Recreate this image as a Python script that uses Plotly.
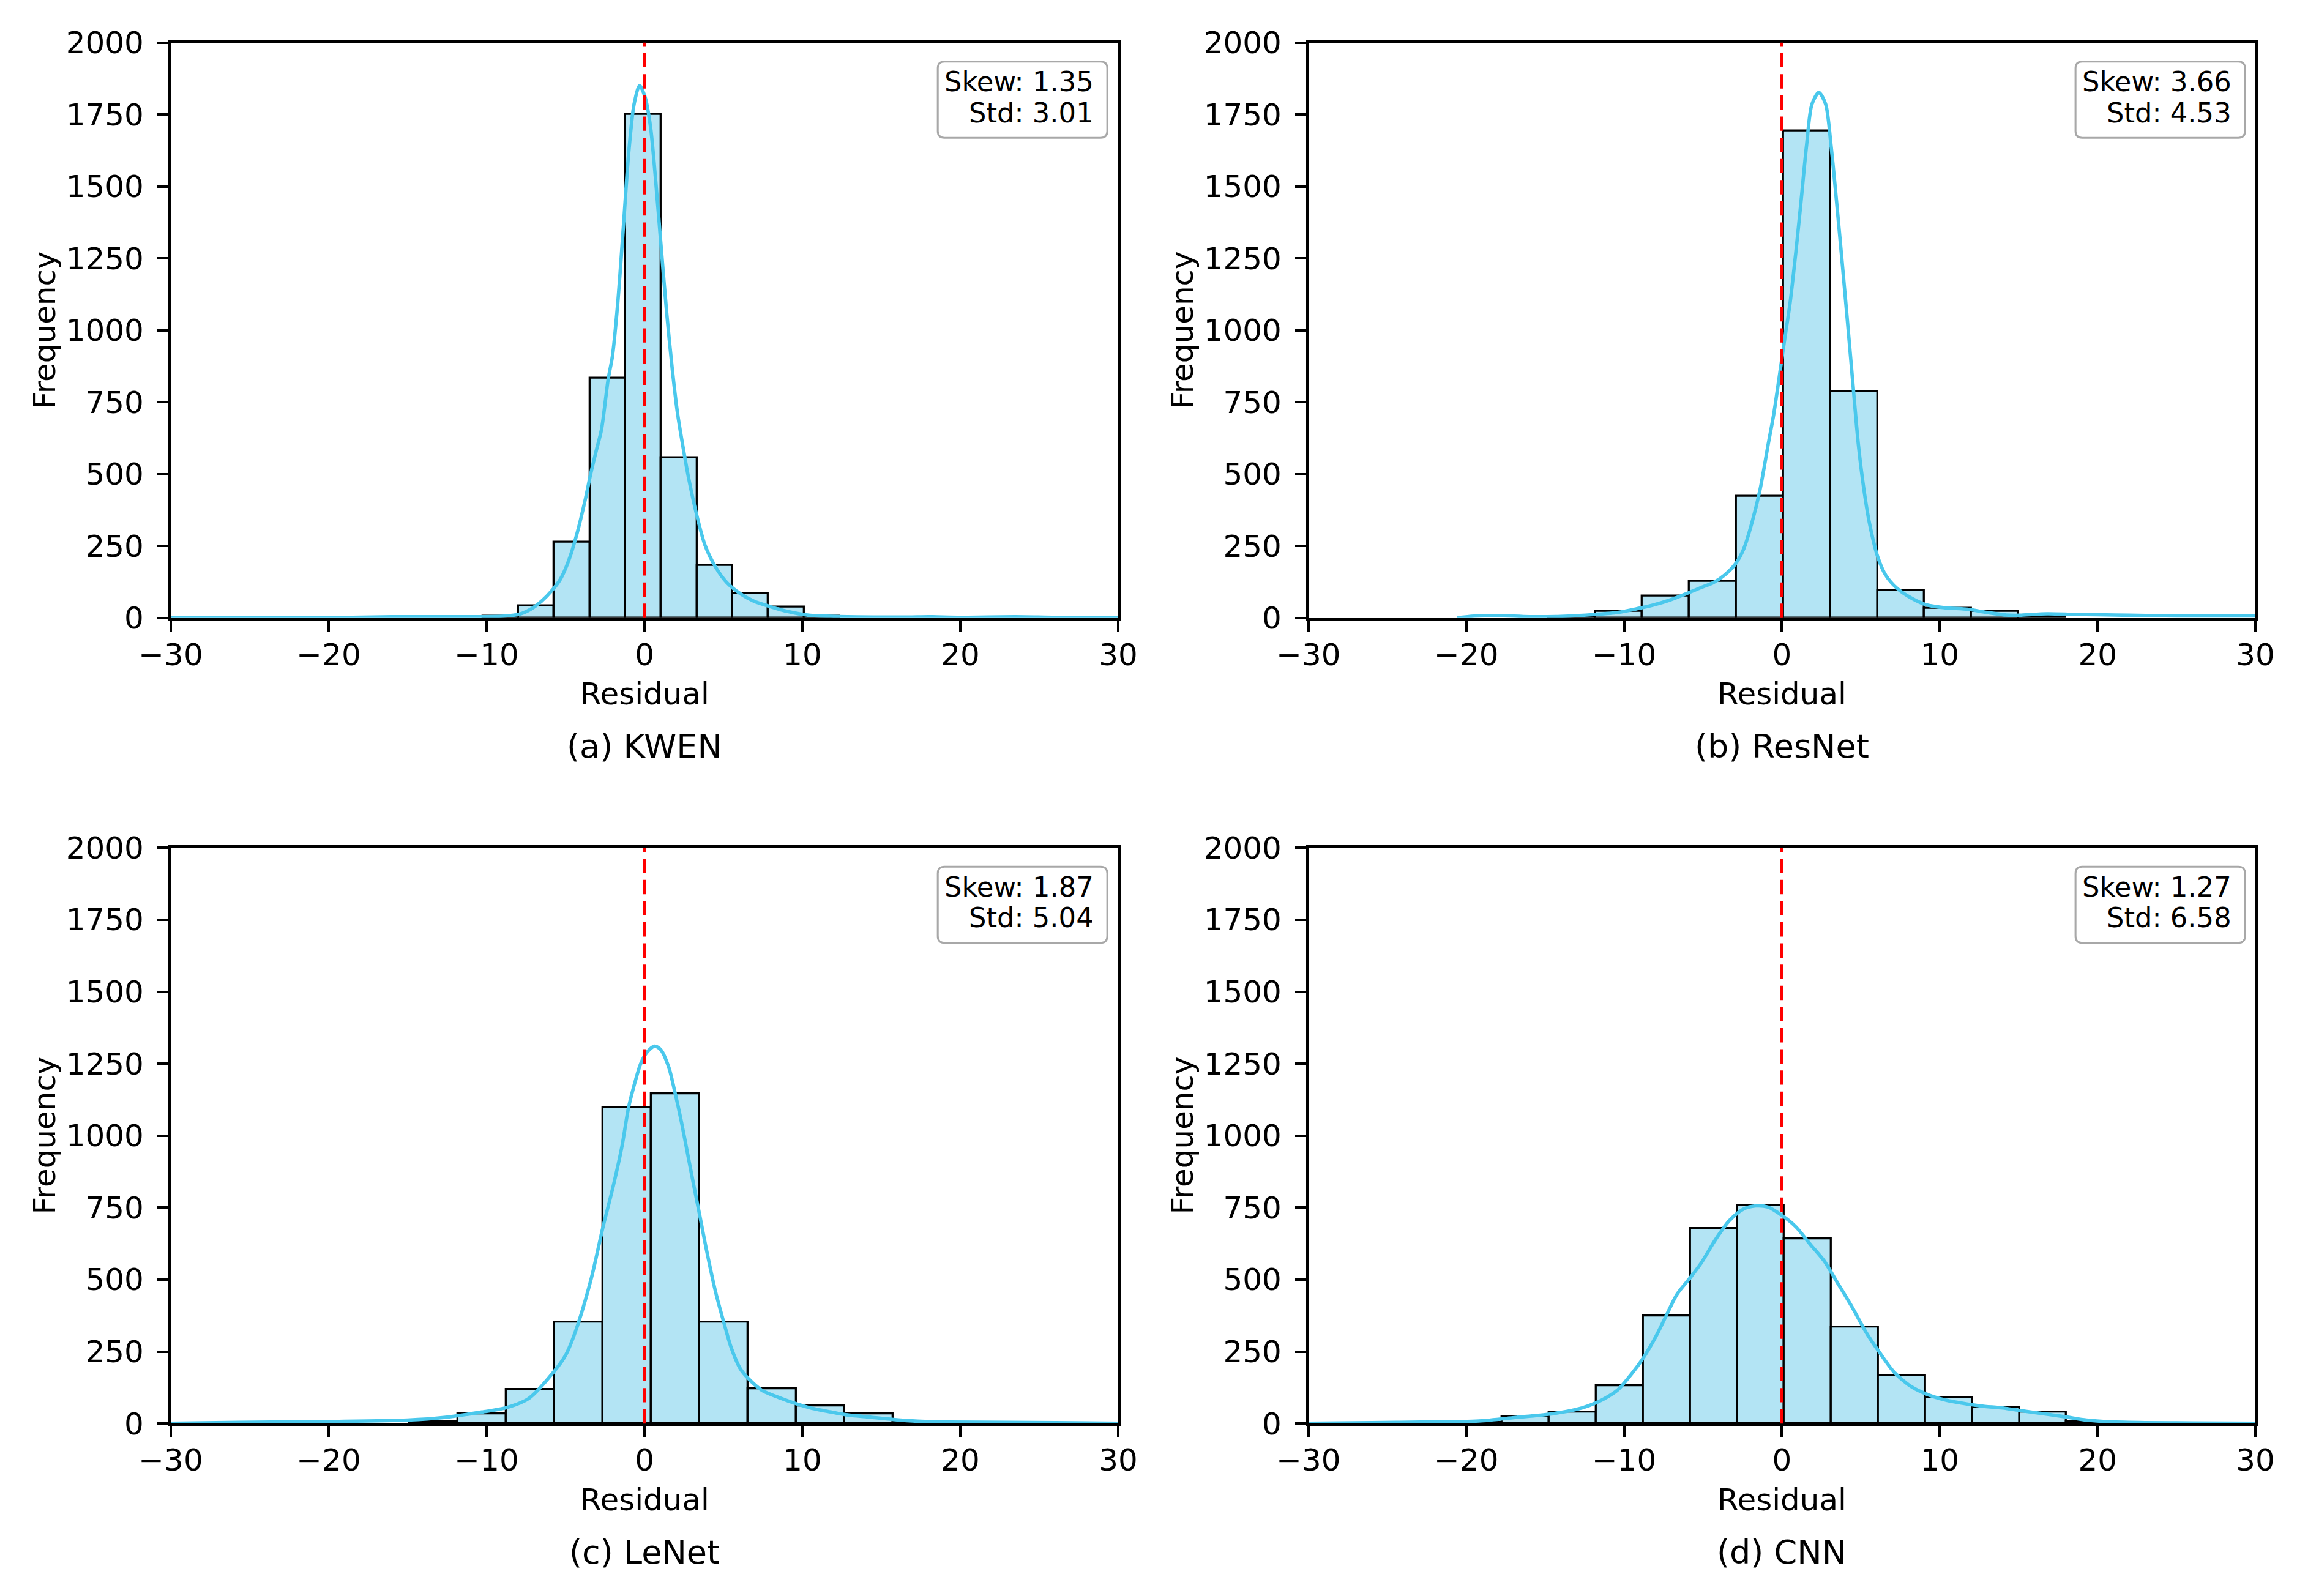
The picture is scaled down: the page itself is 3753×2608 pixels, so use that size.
import plotly.graph_objects as go

W, H = 3753, 2608
FONT = "DejaVu Sans"

# ---------------- data ----------------
titles = ["(a) KWEN", "(b) ResNet", "(c) LeNet", "(d) CNN"]
skews = ["1.35", "3.66", "1.87", "1.27"]
stds = ["3.01", "4.53", "5.04", "6.58"]

kwen_bin_left = [-10.24, -7.98, -5.72, -3.46, -1.20, 1.06, 3.32, 5.58, 7.84, 10.10]
kwen_bin_width = 2.26
kwen_counts = [5, 42, 263, 834, 1751, 558, 182, 84, 37, 7]
kwen_kde_x = [-30, -20, -16, -13, -10.3, -8.9, -7.9, -7.21, -6.52, -5.83, -5.31, -4.79, -4.28,
              -3.76, -3.41, -3.07, -2.72, -2.3, -2.03, -1.69, -1.34, -1.0, -0.66, -0.31, 0.03,
              0.38, 0.72, 1.07, 1.41, 1.76, 2.1, 2.45, 2.79, 3.31, 3.83, 4.52, 5.21, 6.07, 6.93,
              7.97, 9.0, 10.4, 12.1, 14.5, 16.7, 18.0, 20.0, 23.5, 26, 30]
kwen_kde_y = [1, 1, 4, 4, 4, 6, 13, 30, 58, 97, 136, 201, 292, 409, 500, 578, 656, 830, 910,
              1097, 1357, 1617, 1786, 1851, 1812, 1708, 1513, 1279, 1058, 864, 708, 591, 487,
              357, 253, 175, 123, 84, 58, 39, 23, 9, 5, 3, 3, 4, 2, 4, 2, 1]

resnet_bin_left = [-14.81, -11.83, -8.85, -5.87, -2.89, 0.09, 3.07, 6.05, 9.03, 12.01, 14.99]
resnet_bin_width = 2.98
resnet_counts = [4, 24, 76, 128, 424, 1694, 788, 95, 34, 24, 5]
resnet_kde_x = [-20.6, -19.5, -18, -16, -14, -11.8, -10.4, -9.17, -8.13, -7.1, -6.06, -5.19,
                -4.33, -3.63, -2.94, -2.42, -1.9, -1.38, -0.87, -0.52, -0.17, 0.17, 0.52, 0.87,
                1.21, 1.56, 1.9, 2.34, 2.77, 3.11, 3.46, 3.81, 4.15, 4.5, 4.84, 5.19, 5.54,
                6.06, 6.57, 7.27, 8.13, 9.17, 10.38, 11.76, 12.98, 14.19, 15.0, 16.8, 18.5,
                20, 22, 25, 28, 30]
resnet_kde_y = [0, 6, 8, 4, 5, 12, 19, 32, 45, 62, 84, 104, 123, 149, 188, 240, 331, 448, 604,
                708, 838, 968, 1097, 1266, 1448, 1643, 1786, 1827, 1786, 1643, 1448, 1240, 1032,
                812, 604, 448, 331, 214, 149, 104, 71, 45, 35, 30, 19, 10, 9, 14, 12, 11, 9, 7,
                7, 7]

lenet_bin_left = [-14.87, -11.81, -8.75, -5.69, -2.63, 0.43, 3.49, 6.55, 9.61, 12.67, 15.73]
lenet_bin_width = 3.06
lenet_counts = [6, 34, 118, 353, 1099, 1145, 353, 120, 62, 33, 6]
lenet_kde_x = [-30, -25.7, -19.6, -15, -12.7, -10.3, -8.75, -7.33, -5.71, -4.97, -4.37, -3.39,
               -2.64, -2.0, -1.42, -1.02, -0.63, -0.24, 0.16, 0.65, 1.04, 1.54, 1.93, 2.33,
               2.72, 3.11, 3.51, 3.9, 4.49, 5.08, 5.48, 6.07, 6.6, 7.45, 8.43, 9.65, 10.6,
               11.8, 12.7, 14.3, 15.76, 17.3, 19.3, 23, 26, 30]
lenet_kde_y = [1, 4, 7, 12, 21, 40, 55, 87, 182, 240, 320, 500, 680, 820, 965, 1095, 1180,
               1250, 1290, 1311, 1298, 1237, 1150, 1050, 940, 830, 720, 610, 460, 340, 265,
               190, 155, 115, 92, 68, 53, 40, 31, 22, 14, 8, 5, 4, 3, 1]

cnn_bin_left = [-20.71, -17.73, -14.75, -11.77, -8.79, -5.81, -2.83, 0.15, 3.13, 6.11, 9.09,
                12.07, 15.05, 18.03]
cnn_bin_width = 2.98
cnn_counts = [4, 25, 39, 132, 373, 678, 758, 641, 335, 167, 92, 57, 41, 7]
cnn_kde_x = [-30, -26, -22.9, -19.2, -16.9, -14.7, -13.1, -12.2, -11.3, -10.4, -9.53, -8.76,
             -7.98, -7.32, -6.65, -5.76, -5.1, -4.21, -3.33, -2.44, -1.66, -0.89, 0, 0.89,
             1.77, 2.66, 3.55, 4.43, 5.32, 6.21, 7.1, 8.2, 9.31, 10.4, 11.5, 12.6, 14.0, 15.1,
             16.6, 18.0, 19.3, 20.8, 23, 26, 30]
cnn_kde_y = [1, 3, 5, 9, 21, 33, 48, 63, 85, 117, 172, 230, 303, 376, 449, 510, 559, 639, 705,
             745, 756, 752, 723, 683, 624, 566, 486, 406, 318, 245, 179, 128, 99, 81, 70, 61,
             54, 45, 34, 23, 12, 6, 3, 2, 1]

x_ticks = [-30, -20, -10, 0, 10, 20, 30]
y_ticks = [0, 250, 500, 750, 1000, 1250, 1500, 1750, 2000]

# ---------------- styling ----------------
BAR_FILL = "#B3E4F4"
KDE_COLOR = "#4AC8EC"
BOX_EDGE = "#A8A8A8"

# page placement correction (the page is photographed slightly scaled/offset)
K = 1.0193
DX, DY = 52.2, 32.7


def tx_(v):
    return K * v - DX


def ty_(v):
    return K * v - DY


def s(v):
    return K * v


# plot-area pixel boxes as measured on the reference (left, top, right, bottom)
boxes = [(270, 65, 1824, 1008), (2136, 65, 3689, 1008),
         (270, 1385, 1824, 2329), (2136, 1385, 3689, 2329)]

series = [
    (kwen_bin_left, kwen_bin_width, kwen_counts, kwen_kde_x, kwen_kde_y),
    (resnet_bin_left, resnet_bin_width, resnet_counts, resnet_kde_x, resnet_kde_y),
    (lenet_bin_left, lenet_bin_width, lenet_counts, lenet_kde_x, lenet_kde_y),
    (cnn_bin_left, cnn_bin_width, cnn_counts, cnn_kde_x, cnn_kde_y),
]


def px(xp):
    return tx_(xp) / W


def py(yp):
    return 1 - ty_(yp) / H


fig = go.Figure()
layout = dict(
    width=W, height=H, margin=dict(l=0, r=0, t=0, b=0),
    paper_bgcolor="white", plot_bgcolor="white", showlegend=False,
    font=dict(family=FONT, size=s(49), color="black"),
    bargap=0,
)
shapes = []
annotations = []

for i, (left, w, counts, kx, ky) in enumerate(series):
    n = i + 1
    xa = "x" if n == 1 else f"x{n}"
    ya = "y" if n == 1 else f"y{n}"
    l, t, r, b = boxes[i]

    fig.add_trace(go.Bar(
        x=[e + w / 2 for e in left], y=counts, width=w,
        marker=dict(color=BAR_FILL, line=dict(color="black", width=s(3.2))),
        xaxis=xa, yaxis=ya,
    ))
    fig.add_trace(go.Scatter(
        x=kx, y=ky, mode="lines",
        line=dict(color=KDE_COLOR, width=s(5.5), shape="spline", smoothing=0.8),
        xaxis=xa, yaxis=ya,
    ))

    axis_common = dict(
        showline=True, linecolor="black", linewidth=s(3.5), mirror=True,
        ticks="outside", ticklen=s(18), tickwidth=s(3.5), tickcolor="black",
        showgrid=False, zeroline=False,
        tickfont=dict(family=FONT, size=s(49), color="black"),
    )
    layout["xaxis" if n == 1 else f"xaxis{n}"] = dict(
        axis_common, domain=[px(l), px(r)], range=[-30, 30],
        tickvals=x_ticks, anchor=ya, ticklabelstandoff=-5,
    )
    layout["yaxis" if n == 1 else f"yaxis{n}"] = dict(
        axis_common, domain=[py(b), py(t)], range=[0, 2000],
        tickvals=y_ticks, anchor=xa, ticklabelstandoff=12,
    )

    # red dashed zero line
    shapes.append(dict(
        type="line", xref=xa, yref=f"{ya} domain", x0=0, x1=0, y0=0, y1=1,
        line=dict(color="#FF0000", width=s(4.8), dash=f"{s(23):.1f}px,{s(11):.1f}px"),
        layer="above",
    ))

    # rounded stats box
    bl, bt, br, bb = l + (1528 - 270), t + (96 - 65), l + (1806 - 270), t + (221 - 65)
    rad = 11
    path = (
        f"M {px(bl + rad)},{py(bt)} L {px(br - rad)},{py(bt)} "
        f"Q {px(br)},{py(bt)} {px(br)},{py(bt + rad)} "
        f"L {px(br)},{py(bb - rad)} Q {px(br)},{py(bb)} {px(br - rad)},{py(bb)} "
        f"L {px(bl + rad)},{py(bb)} Q {px(bl)},{py(bb)} {px(bl)},{py(bb - rad)} "
        f"L {px(bl)},{py(bt + rad)} Q {px(bl)},{py(bt)} {px(bl + rad)},{py(bt)} Z"
    )
    shapes.append(dict(
        type="path", xref="paper", yref="paper", path=path,
        line=dict(color=BOX_EDGE, width=s(3)), fillcolor="rgba(255,255,255,0.8)",
        layer="above",
    ))
    txp = l + (1786 - 270)
    for txt, yc in ((f"Skew: {skews[i]}", t + (129 - 65)), (f"Std: {stds[i]}", t + (180 - 65))):
        annotations.append(dict(
            text=txt, xref="paper", yref="paper", x=px(txp), y=py(yc),
            xanchor="right", yanchor="middle", showarrow=False,
            font=dict(family=FONT, size=s(44), color="black"),
        ))

    cx = (l + r) / 2
    annotations.append(dict(
        text="Residual", xref="paper", yref="paper", x=px(cx), y=py(b + 125),
        xanchor="center", yanchor="middle", showarrow=False,
        font=dict(family=FONT, size=s(49), color="black"),
    ))
    annotations.append(dict(
        text=titles[i], xref="paper", yref="paper", x=px(cx), y=py(b + 211),
        xanchor="center", yanchor="middle", showarrow=False,
        font=dict(family=FONT, size=s(53), color="black"),
    ))
    annotations.append(dict(
        text="Frequency", xref="paper", yref="paper", x=px(l - 207), y=py((t + b) / 2),
        xanchor="center", yanchor="middle", showarrow=False, textangle=-90,
        font=dict(family=FONT, size=s(49), color="black"),
    ))

layout["shapes"] = shapes
layout["annotations"] = annotations
fig.update_layout(**layout)
fig.write_html("out.html")
